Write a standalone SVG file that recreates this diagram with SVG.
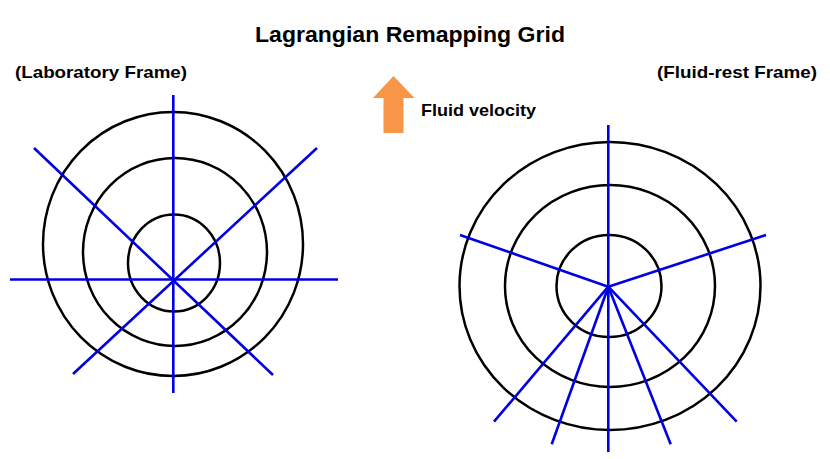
<svg xmlns="http://www.w3.org/2000/svg" width="830" height="459" viewBox="0 0 830 459">
<style>
.ring{fill:none;stroke:#000;stroke-width:2.5}
.ray{stroke:#0000E0;stroke-width:2.6;stroke-linecap:butt;fill:none}
.t{font-family:"Liberation Sans",Arial,sans-serif;font-weight:bold;fill:#000}
</style>
<rect width="830" height="459" fill="#fff"/>
<g id="title"><text class="t" x="255" y="42" font-size="21.5" textLength="310" lengthAdjust="spacingAndGlyphs">Lagrangian Remapping Grid</text></g>
<g id="lab-label"><text class="t" x="15" y="78" font-size="17" textLength="172" lengthAdjust="spacingAndGlyphs">(Laboratory Frame)</text></g>
<g id="fluid-label"><text class="t" x="657" y="78" font-size="17" textLength="160" lengthAdjust="spacingAndGlyphs">(Fluid-rest Frame)</text></g>
<g id="velocity">
<polygon points="393.5,76 414.5,98 403.5,98 403.5,133 383.5,133 383.5,98 373,98" fill="#F79646"/>
<text class="t" x="421" y="116" font-size="17" textLength="115" lengthAdjust="spacingAndGlyphs">Fluid velocity</text>
</g>
<g id="lab-frame">
<ellipse class="ring" cx="173" cy="244" rx="130" ry="132"/>
<ellipse class="ring" cx="175" cy="252" rx="92" ry="94"/>
<ellipse class="ring" cx="174" cy="263" rx="46" ry="48.5"/>
</g>
<g id="fluid-frame">
<ellipse class="ring" cx="610" cy="286" rx="150.5" ry="144"/>
<ellipse class="ring" cx="610" cy="286" rx="105" ry="101"/>
<ellipse class="ring" cx="609" cy="286" rx="52.5" ry="51"/>
</g>
<g id="connectors">
<line class="ray" x1="173.3" y1="95" x2="173.3" y2="393"/>
<line class="ray" x1="10" y1="279.5" x2="338" y2="279.5"/>
<line class="ray" x1="34" y1="148" x2="273" y2="375"/>
<line class="ray" x1="317" y1="148" x2="73" y2="374"/>
<line class="ray" x1="608.3" y1="125" x2="608.3" y2="452"/>
<line class="ray" x1="460" y1="235" x2="608.3" y2="286.7"/>
<line class="ray" x1="766" y1="235" x2="608.3" y2="286.7"/>
<line class="ray" x1="494" y1="421.7" x2="608.3" y2="286.7"/>
<line class="ray" x1="551.7" y1="444.3" x2="608.3" y2="286.7"/>
<line class="ray" x1="670.7" y1="444.3" x2="608.3" y2="286.7"/>
<line class="ray" x1="736.7" y1="421.7" x2="608.3" y2="286.7"/>
</g>
</svg>
